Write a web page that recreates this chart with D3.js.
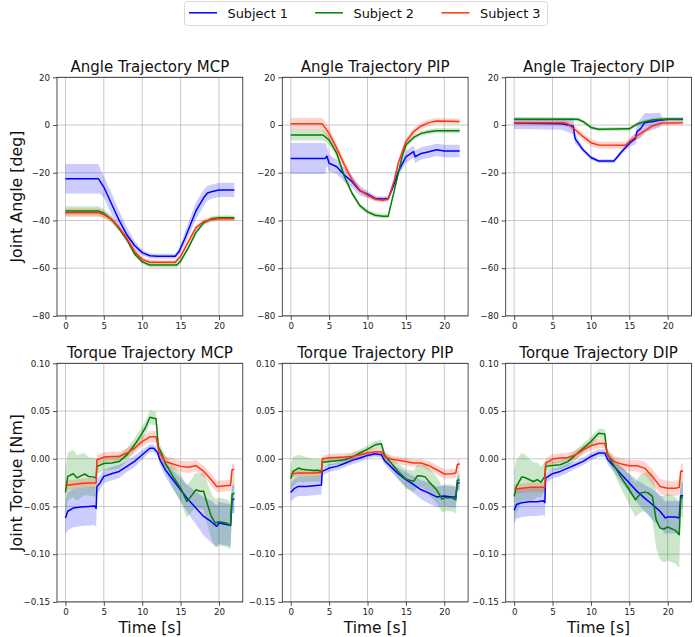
<!DOCTYPE html>
<html><head><meta charset="utf-8">
<script src="https://cdn.jsdelivr.net/npm/d3@7"></script>
<style>
html,body{margin:0;padding:0;background:#fff;}
svg{display:block;font-family:"DejaVu Sans",sans-serif;}
</style></head>
<body><svg id="c" width="695" height="637"></svg>
<script>
// ---------- DATA ----------
const subjects = ["Subject 1", "Subject 2", "Subject 3"];
const colors = ["#0000ff", "#008000", "#ff3311"];
const joints = ["MCP", "PIP", "DIP"];
const xTicks = [0, 5, 10, 15, 20];
const angleTicks = [-80, -60, -40, -20, 0, 20];
const torqueTicks = [-0.15, -0.10, -0.05, 0.00, 0.05, 0.10];

// each point: [time s, mean, half-width of shaded band]
const angleMCP_S1 = [[0,-22.5,6.2],[4.3,-22.5,6.2],[4.6,-24,5],[5,-26,4.5],[6,-33,4.5],[7,-40,4],[7.5,-43,3.5],[8,-46,3],[9,-50.5,2],[10,-53.5,1.2],[11,-54.8,1],[12,-55,1],[14.3,-55,1],[14.8,-53,1.5],[15.5,-48,2.5],[16,-44,3],[17,-36,3.5],[18,-30.5,3.5],[18.5,-28.5,3],[19,-28,3],[20,-27.2,3],[22,-27.2,3]];
const angleMCP_S2 = [[0,-36,2],[4.3,-36,2],[5,-37,1.8],[6,-39.5,1.5],[7,-43.5,1],[8,-48,1],[9,-54,1],[10,-57.3,1],[11,-58.7,1],[14.5,-58.7,1],[15,-57,1],[16,-51.5,1],[17,-45,1],[18,-41,1],[19,-39.3,1],[20,-38.9,1],[22,-38.9,1]];
const angleMCP_S3 = [[0,-36.8,1.8],[4.3,-36.8,1.8],[5,-37.5,1.5],[6,-39.5,1.2],[7,-43,1],[8,-47.5,1],[9,-53,1],[10,-56.3,1],[11,-57.5,1],[14.3,-57.5,1],[15,-55,1],[16,-49,1],[17,-43,1],[18,-40.5,1],[19,-39.6,1],[20,-39.3,1],[22,-39.3,1]];

const anglePIP_S1 = [[0,-14,6.5],[4.5,-14,6.5],[4.7,-13,4],[5,-16,3.5],[6,-17.5,3],[7,-21,3],[8,-23.8,2.5],[9,-27.5,2],[10,-29,1.5],[11,-30.8,1],[12,-31,1],[12.7,-30.8,1],[13.5,-24.5,1.5],[14,-19.6,2],[15,-13.3,2.5],[16,-11.2,2.6],[16.2,-13.3,2.6],[17,-11.9,2.6],[18,-11.2,2.6],[19,-10.4,2.6],[20,-10.9,2.6],[22,-10.9,2.6]];
const anglePIP_S2 = [[0,-4.2,2.3],[4.2,-4.2,2.3],[5,-6.3,2],[6,-11.9,1.5],[7,-21.7,1.2],[8,-28.7,1],[9,-33.8,1],[10,-36.4,1],[11,-37.8,1],[12,-38.2,1],[12.7,-38.2,1],[13,-34,1],[13.5,-27.3,1],[14,-20.3,1],[14.5,-13.3,1],[15,-8.4,1],[16,-5.2,1],[17,-3.5,1],[18,-2.8,1],[19,-2.4,1],[22,-2.4,1]];
const anglePIP_S3 = [[0,0.5,2.5],[4.1,0.5,2.5],[5,-3.5,2.5],[6,-9.8,2],[7,-16.8,1.8],[8,-23,1.5],[9,-27.3,1.2],[10,-29.4,1],[11,-31,1],[12,-31.5,1],[12.7,-31,1],[13.5,-23,1.2],[14,-16,1.5],[15,-7,1.5],[16,-2.8,1.5],[17,-0.4,1.5],[18,1,1.3],[19,1.7,1.2],[22,1.5,1.2]];

const angleDIP_S1 = [[0,0.8,2.5],[6.2,0.5,2.5],[7,0,3],[7.7,-0.5,3.5],[7.9,-5,2.5],[8,-6,2],[9,-10.5,1],[10,-13.6,0.8],[11,-15.1,0.8],[13,-15.1,0.8],[14,-11.2,1],[15,-7.7,1.5],[15.8,-5.6,2.5],[16,-2.8,3.5],[16.5,-1.4,4],[17,1,4],[18,1.4,3.5],[19,2.1,3],[19.3,2.1,1],[20,2.4,0.8],[22,2.4,0.8]];
const angleDIP_S2 = [[0,2.4,0.8],[8.3,2.4,0.8],[9,1.4,0.8],[10,-1,0.8],[11,-1.8,0.8],[15,-1.6,0.8],[16,0.4,0.8],[17,1.4,0.8],[18,2.1,0.8],[19,2.4,0.8],[22,2.4,0.8]];
const angleDIP_S3 = [[0,1,1],[6.5,1,1],[7,0.4,1.2],[8,-2.1,1.5],[9,-4.9,1.5],[10,-7.4,1.5],[11,-8.4,1.5],[14.5,-8.5,1.5],[15,-7,1.5],[16,-4.6,1.5],[17,-2.5,1.2],[18,-0.4,1],[19,0.7,1],[22,1,1]];

const torqueMCP_S1 = [[0,-0.062,0.018],[0.3,-0.055,0.02],[1,-0.0517,0.02],[2,-0.0506,0.02],[3,-0.05,0.02],[3.8,-0.0495,0.02],[4,-0.052,0.02],[4.1,-0.029,0.008],[4.5,-0.0254,0.007],[5,-0.0185,0.007],[6,-0.0157,0.007],[7,-0.0133,0.007],[8,-0.008,0.006],[9,-0.0028,0.006],[10,0.0042,0.005],[11,0.011,0.004],[11.5,0.011,0.004],[12,0.0066,0.004],[12.3,-0.001,0.005],[13,-0.0115,0.007],[14,-0.022,0.01],[15,-0.0325,0.012],[16,-0.043,0.015],[17,-0.0517,0.017],[18,-0.0604,0.02],[19,-0.066,0.022],[19.7,-0.0708,0.022],[20,-0.0673,0.022],[21,-0.069,0.022],[21.5,-0.07,0.022],[21.7,-0.043,0.015],[22,-0.042,0.015]];
const torqueMCP_S2 = [[0,-0.0353,0.025],[0.3,-0.0185,0.025],[1,-0.0157,0.025],[1.5,-0.02,0.024],[2,-0.018,0.023],[2.5,-0.016,0.022],[3,-0.0185,0.02],[3.5,-0.019,0.02],[4,-0.02,0.02],[4.1,-0.008,0.008],[5,-0.005,0.007],[6,-0.0045,0.007],[7,-0.003,0.007],[8,0.004,0.007],[9,0.0146,0.007],[10,0.0268,0.007],[10.5,0.034,0.007],[11,0.0435,0.007],[11.8,0.042,0.007],[12.1,0.0128,0.006],[12.5,0.006,0.006],[13,-0.0045,0.008],[14,-0.0185,0.012],[15,-0.0307,0.015],[15.8,-0.0447,0.017],[16.2,-0.041,0.017],[17,-0.0325,0.018],[17.5,-0.034,0.018],[18,-0.034,0.02],[18.5,-0.048,0.022],[19,-0.0604,0.024],[19.5,-0.0673,0.025],[20,-0.066,0.025],[21,-0.0674,0.025],[21.5,-0.07,0.025],[21.7,-0.0377,0.02],[22,-0.036,0.02]];
const torqueMCP_S3 = [[0,-0.028,0.005],[1,-0.027,0.005],[2,-0.026,0.005],[3,-0.0255,0.005],[4,-0.0255,0.005],[4.1,-0.001,0.005],[5,0.0017,0.005],[6,0.0024,0.005],[7,0.0024,0.005],[8,0.006,0.005],[9,0.011,0.005],[10,0.018,0.005],[11,0.023,0.006],[11.8,0.023,0.006],[12.2,0.0066,0.006],[13,-0.003,0.006],[14,-0.0056,0.006],[15,-0.008,0.006],[16,-0.009,0.006],[17,-0.0073,0.006],[18,-0.013,0.006],[19,-0.022,0.006],[19.7,-0.029,0.006],[20,-0.029,0.006],[21,-0.028,0.006],[21.5,-0.028,0.006],[21.7,-0.0115,0.006],[22,-0.011,0.006]];

const torquePIP_S1 = [[0,-0.0353,0.01],[0.5,-0.031,0.01],[1,-0.029,0.01],[2,-0.029,0.01],[3,-0.0283,0.01],[4,-0.0276,0.01],[4.1,-0.0133,0.004],[5,-0.0098,0.004],[6,-0.008,0.004],[7,-0.005,0.004],[8,-0.0017,0.004],[9,0.0007,0.004],[10,0.0035,0.003],[11,0.0052,0.003],[11.8,0.0042,0.003],[12.2,-0.0018,0.004],[13,-0.008,0.005],[14,-0.0157,0.006],[15,-0.022,0.008],[16,-0.027,0.009],[17,-0.0325,0.01],[18,-0.036,0.011],[19,-0.04,0.011],[20,-0.039,0.011],[21,-0.04,0.011],[21.5,-0.04,0.011],[21.7,-0.0255,0.008],[22,-0.0255,0.008]];
const torquePIP_S2 = [[0,-0.021,0.015],[0.3,-0.0133,0.015],[1,-0.0098,0.014],[1.5,-0.011,0.014],[2,-0.0115,0.013],[3,-0.0122,0.012],[3.5,-0.012,0.012],[4,-0.0133,0.012],[4.1,-0.0038,0.005],[5,-0.003,0.004],[6,-0.002,0.004],[7,-0.001,0.004],[8,0.0017,0.004],[9,0.006,0.004],[10,0.01,0.004],[11,0.0146,0.004],[11.8,0.0156,0.004],[12.2,0.0042,0.004],[13,-0.0038,0.006],[14,-0.0133,0.008],[15,-0.0213,0.01],[16,-0.0237,0.011],[16.5,-0.0178,0.012],[17,-0.018,0.012],[17.5,-0.019,0.013],[18,-0.024,0.014],[19,-0.0325,0.014],[19.7,-0.0423,0.014],[20,-0.041,0.014],[21,-0.041,0.014],[21.5,-0.043,0.014],[21.7,-0.0227,0.01],[22,-0.022,0.01]];
const torquePIP_S3 = [[0,-0.016,0.004],[1,-0.015,0.004],[2,-0.015,0.004],[3,-0.015,0.004],[4,-0.0143,0.004],[4.1,-0.0003,0.004],[5,0.001,0.004],[6,0.0014,0.004],[7,0.0017,0.004],[8,0.0024,0.004],[9,0.0042,0.004],[10,0.006,0.004],[11,0.0073,0.004],[11.8,0.0073,0.004],[12.2,0.0024,0.004],[13,-0.0003,0.004],[14,-0.0017,0.004],[15,-0.003,0.004],[16,-0.0045,0.004],[17,-0.0045,0.004],[18,-0.0073,0.005],[19,-0.0115,0.005],[20,-0.016,0.005],[21,-0.0157,0.005],[21.5,-0.015,0.005],[21.7,-0.0063,0.005],[22,-0.0053,0.005]];

const torqueDIP_S1 = [[0,-0.054,0.015],[0.3,-0.048,0.015],[1,-0.046,0.015],[2,-0.045,0.015],[3,-0.045,0.015],[3.8,-0.044,0.015],[4,-0.046,0.015],[4.1,-0.0203,0.005],[5,-0.0157,0.005],[6,-0.0133,0.005],[7,-0.0098,0.005],[8,-0.0063,0.004],[9,-0.0028,0.004],[10,0.0024,0.004],[11,0.006,0.004],[11.8,0.006,0.004],[12.2,-0.0011,0.005],[13,-0.008,0.006],[14,-0.0168,0.008],[15,-0.0255,0.01],[16,-0.0342,0.012],[17,-0.0412,0.014],[18,-0.048,0.016],[19,-0.055,0.017],[19.7,-0.062,0.017],[20,-0.061,0.017],[21,-0.061,0.017],[21.5,-0.062,0.017],[21.7,-0.0388,0.014],[22,-0.0388,0.014]];
const torqueDIP_S2 = [[0,-0.0395,0.028],[0.3,-0.029,0.028],[1,-0.019,0.025],[1.5,-0.02,0.024],[2,-0.022,0.022],[2.5,-0.0238,0.02],[3,-0.022,0.018],[3.5,-0.0245,0.016],[4,-0.0185,0.015],[4.1,-0.008,0.006],[5,-0.007,0.005],[6,-0.0063,0.005],[7,-0.003,0.005],[8,0.004,0.005],[9,0.011,0.005],[10,0.018,0.005],[11,0.0268,0.005],[11.8,0.026,0.005],[12.1,0.0058,0.005],[13,-0.0073,0.008],[14,-0.0203,0.012],[15,-0.0325,0.016],[15.8,-0.043,0.018],[16.5,-0.036,0.02],[17,-0.035,0.02],[17.5,-0.036,0.022],[18,-0.0395,0.025],[18.5,-0.064,0.03],[19,-0.0726,0.033],[19.5,-0.0736,0.035],[20,-0.0715,0.035],[21,-0.075,0.035],[21.5,-0.0796,0.035],[21.7,-0.041,0.02],[22,-0.041,0.02]];
const torqueDIP_S3 = [[0,-0.032,0.005],[1,-0.031,0.005],[2,-0.03,0.005],[3,-0.03,0.005],[4,-0.03,0.005],[4.1,-0.0045,0.005],[5,-0.0003,0.005],[6,0.0007,0.005],[7,0.0014,0.005],[8,0.004,0.005],[9,0.0094,0.005],[10,0.0136,0.005],[11,0.016,0.005],[11.8,0.016,0.005],[12.2,0.004,0.005],[13,-0.0028,0.006],[14,-0.0056,0.006],[15,-0.0073,0.006],[16,-0.0073,0.006],[17,-0.0098,0.007],[18,-0.0185,0.008],[19,-0.029,0.008],[20,-0.031,0.008],[21,-0.031,0.008],[21.5,-0.03,0.008],[21.7,-0.0133,0.008],[22,-0.0126,0.008]];

// ---------- LAYOUT ----------
const panels = [
  {title:"Angle Trajectory MCP", row:0, col:0, series:[angleMCP_S1,angleMCP_S2,angleMCP_S3]},
  {title:"Angle Trajectory PIP", row:0, col:1, series:[anglePIP_S1,anglePIP_S2,anglePIP_S3]},
  {title:"Angle Trajectory DIP", row:0, col:2, series:[angleDIP_S1,angleDIP_S2,angleDIP_S3]},
  {title:"Torque Trajectory MCP", row:1, col:0, series:[torqueMCP_S1,torqueMCP_S2,torqueMCP_S3]},
  {title:"Torque Trajectory PIP", row:1, col:1, series:[torquePIP_S1,torquePIP_S2,torquePIP_S3]},
  {title:"Torque Trajectory DIP", row:1, col:2, series:[torqueDIP_S1,torqueDIP_S2,torqueDIP_S3]}
];
const colLeft = [57, 282.3, 505.7];
const axW = 185.8;
const rowTop = [77.3, 363.3];
const axH = 238.6;
const rowCfg = [
  {domain:[-80,20], ticks:angleTicks, fmt:d3.format("d"), label:"Joint Angle [deg]"},
  {domain:[-0.15,0.10], ticks:torqueTicks, fmt:d3.format(".2f"), label:"Joint Torque [Nm]"}
];

const svg = d3.select("#c");

panels.forEach((p,pi) => {
  const L = colLeft[p.col], T = rowTop[p.row];
  const cfg = rowCfg[p.row];
  const x = d3.scaleLinear().domain([-1.1, 23.1]).range([L, L+axW]);
  const y = d3.scaleLinear().domain(cfg.domain).range([T+axH, T]);
  const g = svg.append("g");
  const clipId = "clip"+pi;
  svg.append("clipPath").attr("id", clipId).append("rect")
    .attr("x", L).attr("y", T).attr("width", axW).attr("height", axH);

  // grid
  g.append("g").selectAll("line").data(xTicks).join("line")
    .attr("x1", d=>x(d)).attr("x2", d=>x(d)).attr("y1", T).attr("y2", T+axH)
    .attr("stroke", "#b0b0b0").attr("stroke-width", 0.8).attr("opacity", 0.85);
  g.append("g").selectAll("line").data(cfg.ticks).join("line")
    .attr("x1", L).attr("x2", L+axW).attr("y1", d=>y(d)).attr("y2", d=>y(d))
    .attr("stroke", "#b0b0b0").attr("stroke-width", 0.8).attr("opacity", 0.85);

  const plot = g.append("g").attr("clip-path", `url(#${clipId})`);
  const area = d3.area().x(d=>x(d[0])).y0(d=>y(d[1]-d[2])).y1(d=>y(d[1]+d[2]));
  const line = d3.line().x(d=>x(d[0])).y(d=>y(d[1]));
  p.series.forEach((s,i) => {
    plot.append("path").datum(s).attr("d", area)
      .attr("fill", colors[i]).attr("fill-opacity", 0.2).attr("stroke", "none");
  });
  p.series.forEach((s,i) => {
    plot.append("path").datum(s).attr("d", line)
      .attr("fill", "none").attr("stroke", colors[i]).attr("stroke-width", 1.5)
      .attr("stroke-linejoin", "round");
  });

  // axes
  const xa = g.append("g").attr("transform", `translate(0,${T+axH})`)
    .call(d3.axisBottom(x).tickValues(xTicks).tickFormat(d3.format("d")).tickSize(4).tickPadding(3));
  const ya = g.append("g").attr("transform", `translate(${L},0)`)
    .call(d3.axisLeft(y).tickValues(cfg.ticks).tickFormat(cfg.fmt).tickSize(4).tickPadding(3));
  [xa, ya].forEach(a => {
    a.select(".domain").remove();
    a.selectAll("line").attr("stroke", "#222").attr("stroke-width", 0.8);
    a.selectAll("text").attr("font-size", "8.7px").attr("fill", "#222")
      .attr("font-family", '"DejaVu Sans",sans-serif');
  });
  // frame
  g.append("rect").attr("x", L).attr("y", T).attr("width", axW).attr("height", axH)
    .attr("fill", "none").attr("stroke", "#222").attr("stroke-width", 0.8);

  // title
  g.append("text").attr("x", L+axW/2).attr("y", T-5.5).attr("text-anchor", "middle")
    .attr("font-size", "15px").attr("fill", "#111").text(p.title);

  if (p.col === 0) {
    g.append("text").attr("transform", `translate(22,${T+axH/2}) rotate(-90)`)
      .attr("text-anchor", "middle").attr("font-size", "15.8px").attr("fill", "#111").text(cfg.label);
  }
  if (p.row === 1) {
    g.append("text").attr("x", L+axW/2).attr("y", 633).attr("text-anchor", "middle")
      .attr("font-size", "15.5px").attr("fill", "#111").text("Time [s]");
  }
});

// legend
const lg = svg.append("g");
lg.append("rect").attr("x", 184.5).attr("y", 1.5).attr("width", 363).attr("height", 24)
  .attr("rx", 3).attr("fill", "#fff").attr("stroke", "#d0d0d0").attr("stroke-width", 0.8);
const legX = [189, 315, 441.5];
subjects.forEach((s,i) => {
  lg.append("line").attr("x1", legX[i]).attr("x2", legX[i]+28).attr("y1", 12.8).attr("y2", 12.8)
    .attr("stroke", colors[i]).attr("stroke-width", 1.5);
  lg.append("text").attr("x", legX[i]+38.5).attr("y", 17.5).attr("font-size", "12.9px")
    .attr("fill", "#111").text(s);
});
</script>
</body></html>
